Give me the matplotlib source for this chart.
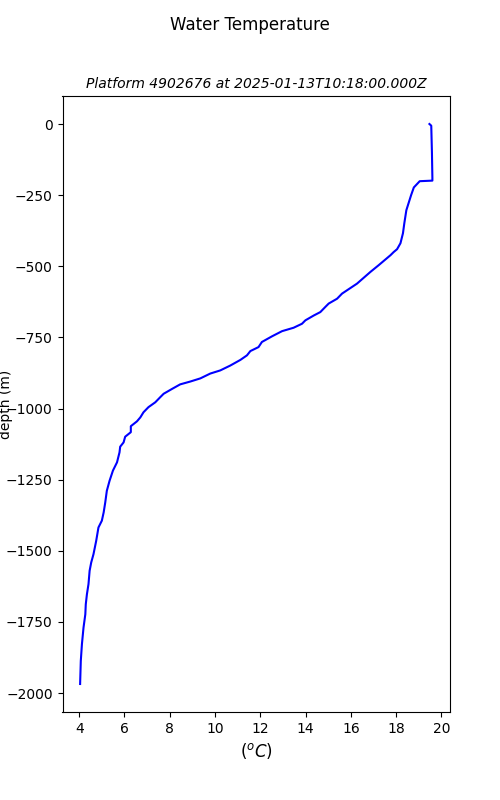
import matplotlib
matplotlib.use("Agg")
import matplotlib.pyplot as plt

temperature = [19.47, 19.55, 19.58, 19.60, 19.60, 19.04, 18.78, 18.66, 18.45, 18.36, 18.30,
               18.19, 18.04, 17.89, 17.75, 17.23, 16.86, 16.27, 15.61, 15.39, 15.02,
               14.87, 14.65, 14.36, 13.99, 13.84, 13.47, 12.96, 12.52, 12.07, 11.92,
               11.56, 11.41, 11.12, 10.67, 10.23, 9.79, 9.35, 8.91, 8.46, 8.10, 7.73, 7.58,
               7.36, 7.06, 6.84, 6.70, 6.55, 6.28, 6.28, 6.03, 5.96, 5.81, 5.78, 5.67,
               5.49, 5.34, 5.22, 5.15, 5.08, 5.00, 4.85, 4.75, 4.63, 4.53, 4.46, 4.41,
               4.34, 4.29, 4.27, 4.19, 4.12, 4.07, 4.04]
depth = [0, -6, -100, -190, -199, -201, -223, -250, -303, -349, -384,
         -419, -440, -450, -461, -496, -520, -561, -596, -614, -631,
         -643, -661, -673, -690, -702, -716, -728, -746, -766, -784,
         -798, -813, -829, -849, -866, -877, -894, -905, -915, -931, -948, -960,
         -978, -995, -1013, -1031, -1045, -1062, -1083, -1099, -1119, -1134, -1154, -1189,
         -1218, -1254, -1289, -1330, -1365, -1394, -1418, -1465, -1512, -1541, -1570, -1617,
         -1653, -1688, -1723, -1770, -1828, -1887, -1968]

fig = plt.figure(figsize=(5, 8), dpi=100)
ax = fig.add_subplot(111)
ax.plot(temperature, depth, color="blue", linewidth=1.5)
fig.suptitle("Water Temperature", fontsize=12)
ax.set_title("Platform 4902676 at 2025-01-13T10:18:00.000Z", fontsize=10, style="italic")
ax.set_xlabel("($^oC$)", fontsize=12)
ax.set_ylabel("depth (m)")
ax.yaxis.set_label_coords(-0.128, 0.5)
fig.savefig("out.png", dpi=100)
